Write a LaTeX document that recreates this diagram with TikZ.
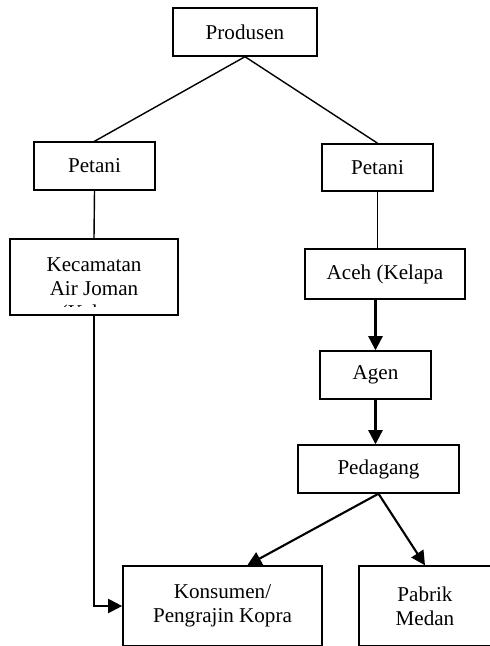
\documentclass[tikz,border=0pt]{standalone}
\usepackage{fontspec}
\setmainfont{Liberation Serif}
\usetikzlibrary{arrows.meta}

\begin{document}
\fontsize{15pt}{17pt}\selectfont
\begin{tikzpicture}[x=0.025cm, y=-0.025cm, >={Triangle[length=10pt, width=10pt]},
    box/.style={draw, line width=1pt, align=center, inner sep=0pt},
    link/.style={line width=1pt},
    flow/.style={->, line width=1.5pt}]
    \useasboundingbox (0,0) rectangle (489,646);

    % Boxes
    \node[box, minimum width=3.6cm, minimum height=1.2cm] (prod) at (245,32) {Produsen};
    \node[box, minimum width=3.02cm, minimum height=1.2cm] (petL) at (94.5,166) {Petani};
    \node[box, minimum width=2.78cm, minimum height=1.18cm] (petR) at (377.5,167.5) {Petani};
    \node[box, minimum width=4.2cm, minimum height=1.9cm] (kec) at (94,277) {Kecamatan\\Air Joman};
    \node[box, minimum width=4cm, minimum height=1.25cm] (aceh) at (385,274) {Aceh (Kelapa};
    \node[box, minimum width=2.78cm, minimum height=1.2cm] (agen) at (375.5,375) {Agen};
    \node[box, minimum width=4.02cm, minimum height=1.2cm] (pedg) at (378.5,469) {Pedagang};
    \node[box, minimum width=4.98cm, minimum height=2cm] (kons) at (222.5,606) {Konsumen/\\Pengrajin Kopra};
    \node[box, minimum width=3.3cm, minimum height=2cm] (pabr) at (425,606) {Pabrik\\Medan};

    % Cut-off third line
    \begin{scope}
        \clip (20,301.5) rectangle (170,306);
        \node (kab) at (82,314) {(Kab};
    \end{scope}

    % Connectors
    \draw[link] (prod.south) -- (petL.north);
    \draw[link] (prod.south) -- (petR.north);
    \draw[link] (petL.south) -- (kec.north);
    \draw[link] (petR.south) -- (petR.south |- aceh.north);
    \draw[flow] (kec.south) |- (kons.west);
    \draw[flow] (agen.north |- aceh.south) -- (agen.north);
    \draw[flow] (agen.south) -- (agen.south |- pedg.north);
    \draw[flow] (pedg.south) -- ([xshift=0.62cm]kons.north);
    \draw[flow] (pedg.south) -- (pabr.north);
\end{tikzpicture}
\end{document}
